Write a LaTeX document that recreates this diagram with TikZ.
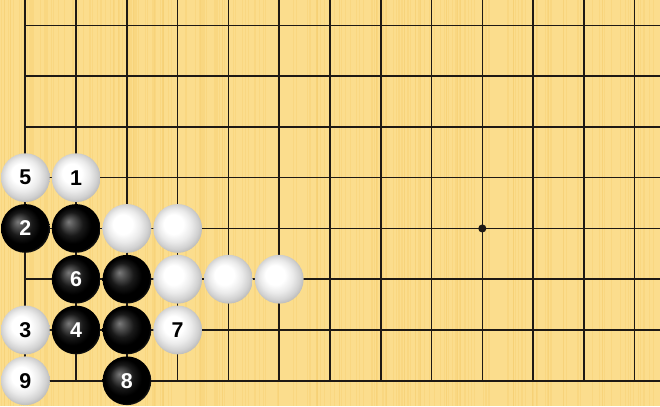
\documentclass[tikz,border=0pt]{standalone}
\usepackage{fontspec}
\setmainfont{Liberation Sans}

\definecolor{goban}{RGB}{251,221,141}
\definecolor{grain}{RGB}{246,206,112}
\definecolor{gridline}{RGB}{30,25,20}

\pgfdeclareradialshading{blackstone}{\pgfpoint{-8bp}{7bp}}{color(0bp)=(black!52); color(5bp)=(black!68); color(12bp)=(black!90); color(19bp)=(black); color(25bp)=(black); color(29bp)=(black!80); color(32bp)=(black!86); color(36bp)=(black)}
\pgfdeclareradialshading{whitestone}{\pgfpoint{-6bp}{6bp}}{color(0bp)=(white); color(10bp)=(white); color(17bp)=(black!8); color(23bp)=(black!18); color(28bp)=(black!30); color(34bp)=(black!45)}

\begin{document}
\begin{tikzpicture}[x=1cm,y=1cm]

\tikzstyle{line} = [draw=gridline, line width=0.9pt]
\tikzstyle{edge} = [draw=gridline, line width=1.1pt]
\tikzstyle{stone} = [circle, inner sep=0pt, minimum size=9.6mm, shade, font=\fontsize{12}{13}\bfseries\selectfont]
\tikzstyle{b} = [stone, shading=blackstone, text=white]
\tikzstyle{w} = [stone, shading=whitestone, text=black]

% board
\fill[goban] (-0.5,-0.5) rectangle (12.5,7.5);
\useasboundingbox (-0.5,-0.5) rectangle (12.5,7.5);
\pgfmathsetseed{11}
\foreach \i in {1,...,220}{
	\pgfmathsetmacro\xx{-0.5+13*rnd}
	\fill[grain, opacity=0.4] (\xx,-0.5) rectangle ++(0.02,8);
}

% grid
\foreach \i in {1,...,12} \draw[line] (\i,0) -- (\i,7.5);
\foreach \j in {1,...,7} \draw[line] (0,\j) -- (12.5,\j);
\draw[edge] (0,7.5) -- (0,0) -- (12.5,0);
\fill[gridline] (9,3) circle (0.08);

% stones
\node[w] (m5) at (0,4) {5};
\node[w] (m1) at (1,4) {1};

\node[b] (m2) at (0,3) {2};
\node[b] (b1) at (1,3) {};
\node[w] (w1) at (2,3) {};
\node[w] (w2) at (3,3) {};

\node[b] (m6) at (1,2) {6};
\node[b] (b2) at (2,2) {};
\node[w] (w3) at (3,2) {};
\node[w] (w4) at (4,2) {};
\node[w] (w5) at (5,2) {};

\node[w] (m3) at (0,1) {3};
\node[b] (m4) at (1,1) {4};
\node[b] (b3) at (2,1) {};
\node[w] (m7) at (3,1) {7};

\node[w] (m9) at (0,0) {9};
\node[b] (m8) at (2,0) {8};

\end{tikzpicture}
\end{document}
